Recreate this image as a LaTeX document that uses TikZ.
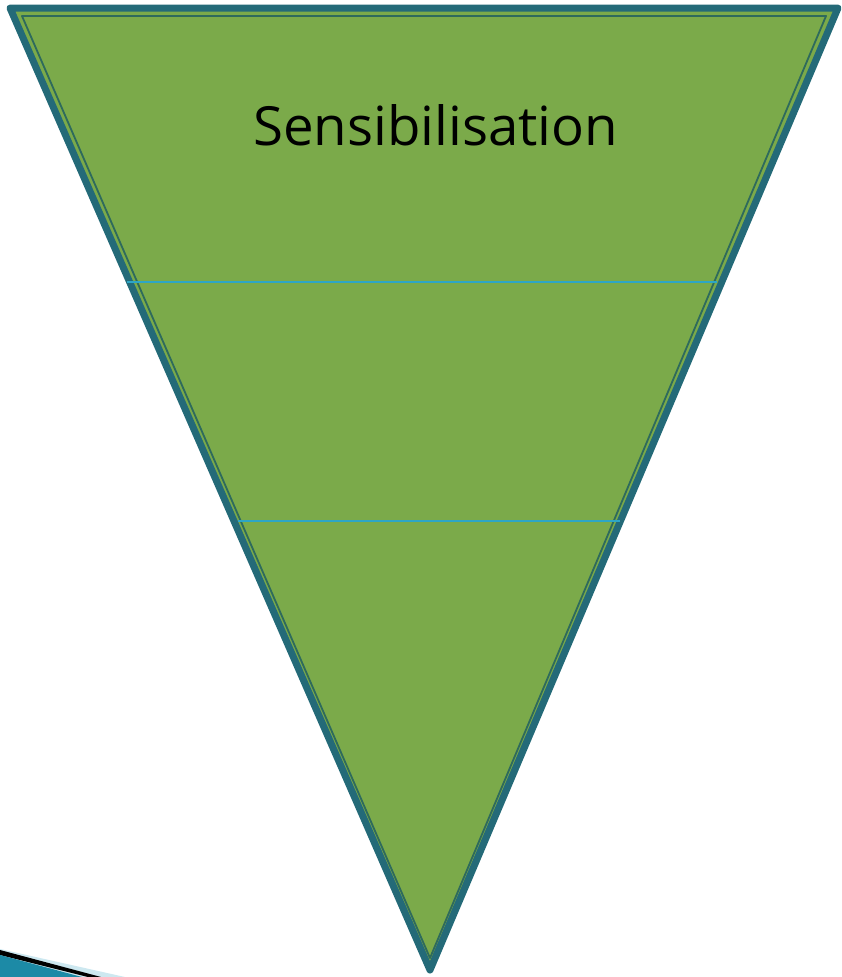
\documentclass[tikz,border=0pt]{standalone}
\usepackage{fontspec}
\setmainfont{Open Sans}
\definecolor{fillgreen}{HTML}{7BAA4A}
\definecolor{bordteal}{HTML}{246A78}
\definecolor{innerline}{HTML}{2E6A5C}
\definecolor{bandblue}{HTML}{2DA6C6}
\definecolor{arrowteal}{HTML}{1C8AA6}
\definecolor{arrowlight}{HTML}{CDE8F0}
\begin{document}
\begin{tikzpicture}[x=1pt,y=-1pt,
  outerborder/.style={draw=bordteal,line width=7pt,line join=round,fill=fillgreen},
  innerborder/.style={draw=innerline,line width=1.8pt,line join=round},
  bandline/.style={draw=bandblue,line width=1.6pt}]
\useasboundingbox (0,0) rectangle (842,977);
% bottom-left arrow fragment
\fill[arrowlight] (0,949) -- (125,977) -- (0,977) -- cycle;
\fill[black] (0,950) -- (101,977) -- (88,977) -- (0,955) -- cycle;
\fill[arrowteal] (0,955) -- (82,977) -- (0,977) -- cycle;
% triangle
\coordinate (A) at (10,8);
\coordinate (B) at (838,8);
\coordinate (C) at (430,970);
\coordinate (Ai) at (22,16);
\coordinate (Bi) at (826,16);
\coordinate (Ci) at (430,958);
\path[outerborder] (A) -- (B) -- (C) -- cycle;
\path[innerborder] (Ai) -- (Bi) -- (Ci) -- cycle;
% band separators
\coordinate (L1) at (127,282);
\coordinate (R1) at (717,282);
\coordinate (L2) at (238,521);
\coordinate (R2) at (620,521);
\draw[bandline] (L1) -- (R1);
\draw[bandline] (L2) -- (R2);
% label
\node[anchor=base west,inner sep=0pt] (title) at (253,145) {\resizebox{365pt}{41pt}{Sensibilisation}};
\end{tikzpicture}
\end{document}
